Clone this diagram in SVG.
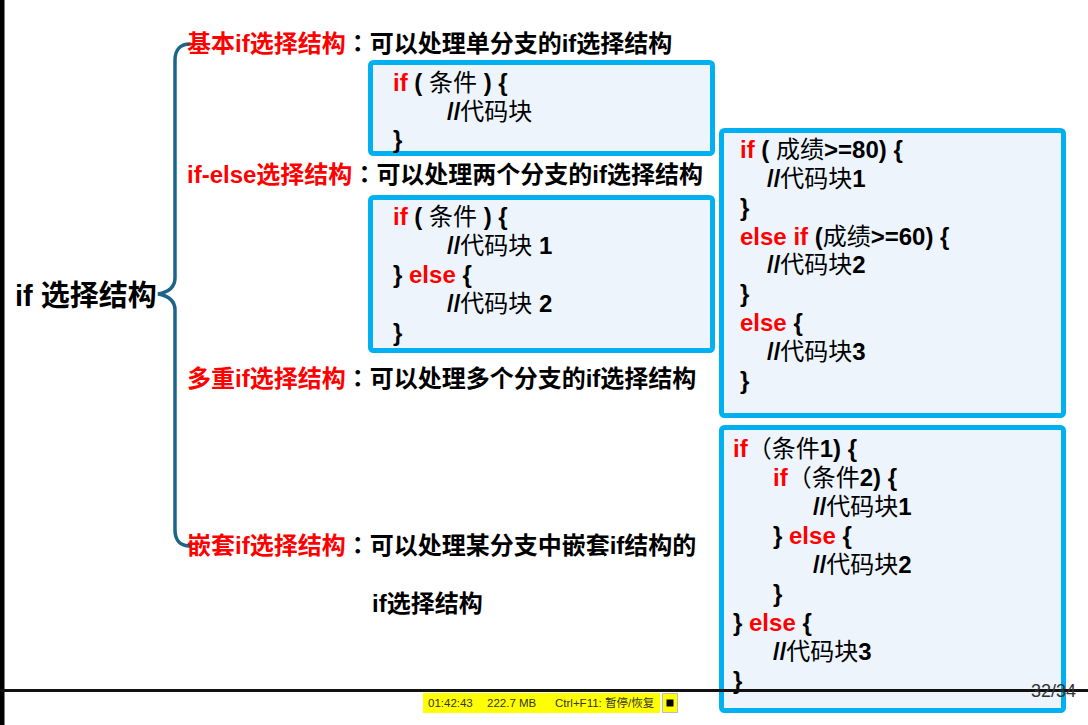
<svg xmlns="http://www.w3.org/2000/svg" width="1088" height="725" viewBox="0 0 1088 725">
<style>
text{font-family:"Liberation Sans","Noto Sans CJK SC",sans-serif;font-weight:bold;font-size:24px;fill:#000}
.title{font-size:29px}
.r{fill:#ff0000}
.n{font-weight:normal}
.col{font-family:"Noto Sans CJK TC","Noto Sans CJK SC",sans-serif}
.box{fill:#edf4fb;stroke:#00b0f0;stroke-width:5}
.conn{fill:none;stroke:#1c6589;stroke-width:3.5;stroke-linecap:round}
.sb{font-family:"Liberation Sans","Noto Sans CJK SC",sans-serif;font-weight:normal;font-size:11.5px;fill:#333}
</style>
<rect width="1088" height="725" fill="#fff"/>
<rect x="0" y="0" width="4.5" height="725" fill="#000"/>

<g id="connectors">
<path class="conn" d="M190 44 C181 44 175 49 175 60 L175 278 C175 287 169 292 158 294 C169 296 175 301 175 310 L175 530 C175 540 180 546 190 546"/>
</g>

<g id="root"><text class="title" x="15" y="306">if 选择结构</text></g>

<g id="branch-basic"><text x="187" y="52"><tspan class="r">基本if选择结构</tspan><tspan class="col">：</tspan>可以处理单分支的if选择结构</text></g>
<g id="branch-ifelse"><text x="187" y="183"><tspan class="r">if-else选择结构</tspan><tspan class="col">：</tspan>可以处理两个分支的if选择结构</text></g>
<g id="branch-multi"><text x="187" y="387"><tspan class="r">多重if选择结构</tspan><tspan class="col">：</tspan>可以处理多个分支的if选择结构</text></g>
<g id="branch-nested"><text x="187" y="554"><tspan class="r">嵌套if选择结构</tspan><tspan class="col">：</tspan>可以处理某分支中嵌套if结构的</text><text x="372" y="612">if选择结构</text></g>

<g id="code-basic">
<rect class="box" x="370.5" y="62.5" width="342" height="91" rx="3"/>
<text x="393" y="91"><tspan class="r">if</tspan> ( <tspan class="n">条件</tspan> ) {</text>
<text x="447" y="120">//<tspan class="n">代码块</tspan></text>
<text x="393" y="148">}</text>
</g>

<g id="code-ifelse">
<rect class="box" x="370.5" y="197.5" width="342" height="153" rx="3"/>
<text x="393" y="225"><tspan class="r">if</tspan> ( <tspan class="n">条件</tspan> ) {</text>
<text x="447" y="254">//<tspan class="n">代码块</tspan> 1</text>
<text x="393" y="283">} <tspan class="r">else</tspan> {</text>
<text x="447" y="312">//<tspan class="n">代码块</tspan> 2</text>
<text x="393" y="341">}</text>
</g>

<g id="code-multi">
<rect class="box" x="721.5" y="130.5" width="342" height="285" rx="3"/>
<text x="740" y="158"><tspan class="r">if</tspan> ( <tspan class="n">成绩</tspan>&gt;=80) {</text>
<text x="767" y="187">//<tspan class="n">代码块</tspan>1</text>
<text x="740" y="216">}</text>
<text x="740" y="245"><tspan class="r">else if</tspan> (<tspan class="n">成绩</tspan>&gt;=60) {</text>
<text x="767" y="273">//<tspan class="n">代码块</tspan>2</text>
<text x="740" y="302">}</text>
<text x="740" y="331"><tspan class="r">else</tspan> {</text>
<text x="767" y="360">//<tspan class="n">代码块</tspan>3</text>
<text x="740" y="389">}</text>
</g>

<g id="code-nested">
<rect class="box" x="721.5" y="427.5" width="342" height="283" rx="3"/>
<text x="733" y="457"><tspan class="r">if</tspan><tspan class="n">（条件</tspan>1) {</text>
<text x="773" y="486"><tspan class="r">if</tspan><tspan class="n">（条件</tspan>2) {</text>
<text x="813" y="515">//<tspan class="n">代码块</tspan>1</text>
<text x="773" y="544">} <tspan class="r">else</tspan> {</text>
<text x="813" y="573">//<tspan class="n">代码块</tspan>2</text>
<text x="773" y="602">}</text>
<text x="733" y="631">} <tspan class="r">else</tspan> {</text>
<text x="773" y="660">//<tspan class="n">代码块</tspan>3</text>
<text x="733" y="689">}</text>
</g>

<rect x="0" y="689" width="1088" height="3" fill="#111"/>
<text x="1031" y="697" style="font-weight:normal;font-size:18px;fill:#333">32/34</text>

<g id="statusbar">
<rect x="423" y="693" width="237" height="20" fill="#ffff00"/>
<text class="sb" x="428" y="707">01:42:43</text>
<text class="sb" x="487" y="707">222.7 MB</text>
<text class="sb" x="555" y="707">Ctrl+F11: 暂停/恢复</text>
<rect x="662.5" y="693.5" width="15" height="19" fill="#ffff00" stroke="#bbb" stroke-width="1"/>
<rect x="666.5" y="699.5" width="7" height="7" fill="#000"/>
</g>
</svg>
